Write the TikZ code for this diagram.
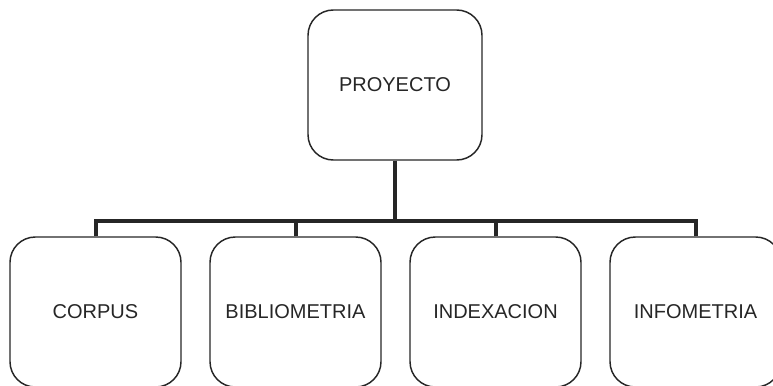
\documentclass[tikz,border=0pt]{standalone}
\usepackage{fontspec}
\setmainfont{Liberation Sans}
\begin{document}
\begin{tikzpicture}[x=0.75pt,y=-0.75pt]
\tikzset{
  box/.style={draw=black!85, line width=1.1pt, rounded corners=19pt, minimum width=128.25pt, minimum height=112.5pt, inner sep=0pt, font=\fontsize{15}{18}\selectfont, text=black!85},
  topbox/.style={box, minimum width=130.5pt},
  bus/.style={draw=black!85, line width=3pt}
}
\useasboundingbox (0,0) rectangle (773,385);
\clip (0,0) rectangle (773,385);
\node[topbox] (top) at (395,85) {PROYECTO};
\node[box] (corpus) at (95.5,312) {CORPUS};
\node[box] (biblio) at (295.5,312) {BIBLIOMETRIA};
\node[box] (index) at (495.5,312) {INDEXACION};
\node[box] (info) at (695.5,312) {INFOMETRIA};
\coordinate (j) at (395,221);
\draw[bus] (top.south) -- (j);
\draw[bus] (corpus.north) |- (j);
\draw[bus] (biblio.north) |- (j);
\draw[bus] (index.north) |- (j);
\draw[bus] (info.north) |- (j);
\end{tikzpicture}
\end{document}
